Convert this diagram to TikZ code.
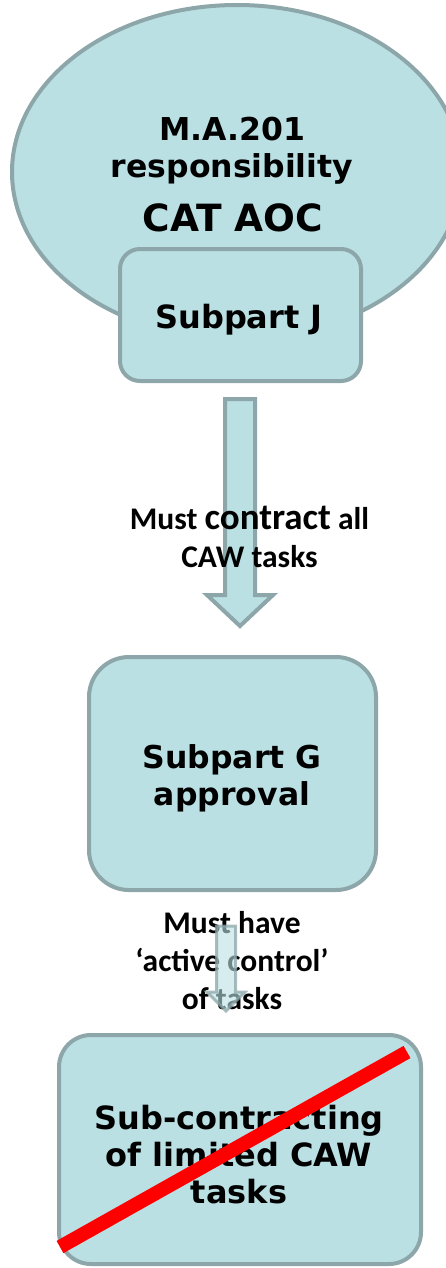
\documentclass[tikz,border=0pt]{standalone}
\usepackage{fontspec}
\usetikzlibrary{shapes.geometric}
\newfontfamily\boxfont{DejaVu Sans}
\newfontfamily\labfont{Carlito}
\definecolor{boxfill}{HTML}{BAE0E4}
\definecolor{boxline}{HTML}{8CA6A9}
\definecolor{crossred}{HTML}{FF0000}
\tikzset{
  shapebox/.style={draw=boxline, fill=boxfill, line width=4pt, inner sep=0pt},
  blockarrow/.style={draw=boxline, fill=boxfill, line width=4pt, line join=miter},
  boxtext/.style={inner sep=0pt, align=center, text=black, font=\boxfont\bfseries\fontsize{31.5}{37}\selectfont},
  labtext/.style={inner sep=0pt, align=center, text=black, font=\labfont\bfseries\fontsize{31.5}{38}\selectfont},
}
\begin{document}
\begin{tikzpicture}[x=1pt,y=-1pt]
\useasboundingbox (0,0) rectangle (446,1268);
% top ellipse
\node[shapebox, ellipse, minimum width=450pt, minimum height=334pt] (aoc) at (237,172) {};
\node[boxtext, font=\boxfont\bfseries\fontsize{31.5}{37}\selectfont] (aoctext) at (232,151) {M.A.201\\responsibility};
\node[boxtext, font=\boxfont\bfseries\fontsize{37.5}{40}\selectfont] (cataoc) at (233,218) {CAT AOC};
% subpart J
\node[shapebox, rounded corners=20pt, minimum width=241pt, minimum height=132pt] (j) at (240.5,315) {};
\node[boxtext, font=\boxfont\bfseries\fontsize{32}{37}\selectfont, anchor=base] (jtext) at (239,328) {Subpart J};
% arrow 1
\coordinate (a1top) at (240,399);
\coordinate (a1tip) at (240,626);
\draw[blockarrow] (225,399) -- (255,399) -- (255,595) -- (273,595) -- (a1tip) -- (207,595) -- (225,595) -- cycle;
\node[labtext] (lab1) at (249.5,537) {Must {\fontsize{37}{38}\selectfont contract} all\\CAW tasks};
% subpart G
\node[shapebox, rounded corners=40pt, minimum width=287pt, minimum height=233pt] (g) at (232.5,773.5) {};
\node[boxtext] (gtext) at (232,778) {Subpart G\\approval};
% arrow 2 + label
\node[labtext] (lab2) at (232,961) {Must have\\‘active control’\\of tasks};
\coordinate (a2tip) at (226,1011);
\draw[blockarrow, line width=3pt, fill opacity=0.6, draw opacity=0.75] (216.5,926) -- (235.5,926) -- (235.5,992) -- (245,992) -- (a2tip) -- (207,992) -- (216.5,992) -- cycle;
% bottom box
\node[shapebox, rounded corners=32pt, minimum width=362pt, minimum height=229pt] (sub) at (240,1149.5) {};
\node[boxtext, font=\boxfont\bfseries\fontsize{32}{37}\selectfont] (subtext) at (239,1155) {Sub-contracting\\of limited CAW\\tasks};
% red cross line
\coordinate (x1) at (60,1247);
\coordinate (x2) at (407,1052);
\draw[crossred, line width=14pt] (x1) -- (x2);
\end{tikzpicture}
\end{document}
